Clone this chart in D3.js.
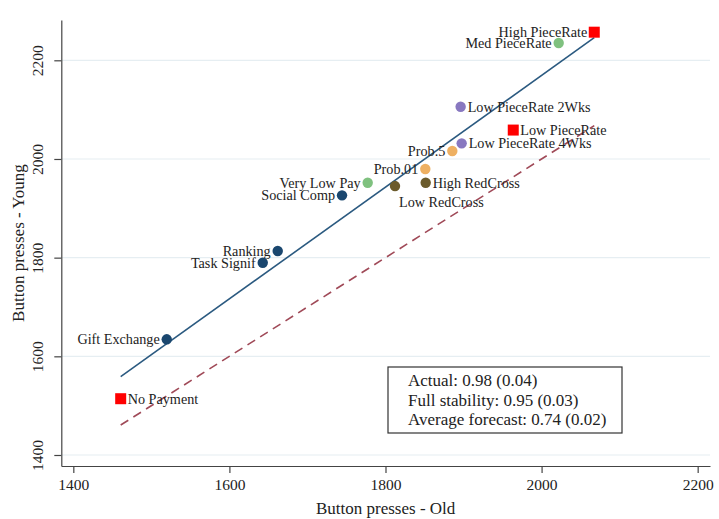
<!DOCTYPE html>
<html><head><meta charset="utf-8">
<script src="https://cdn.jsdelivr.net/npm/d3@7"></script>
<style>
body{margin:0;background:#fff}
svg text{font-family:"Liberation Serif","Times New Roman",serif;fill:#222}
</style>
</head><body>
<svg id="chart" width="719" height="519"></svg>
<script>
// ---------------- data ----------------
const treatments = ["High PieceRate","Med PieceRate","Low PieceRate 2Wks","Low PieceRate","Low PieceRate 4Wks",
  "Prob.5","Prob.01","High RedCross","Low RedCross","Very Low Pay","Social Comp","Ranking","Task Signif",
  "Gift Exchange","No Payment"];
const oldPresses =   [2067.5,2021.9,1896.3,1963.7,1897.6,1885.6,1851.0,1851.5,1812.2,1777.2,1744.3,1661.9,1642.7,1519.7,1460.7];
const youngPresses = [2257.0,2235.0,2105.9,2058.6,2031.7,2016.1,1979.6,1951.8,1945.1,1951.8,1926.3,1813.4,1789.7,1634.5,1514.1];
const groups = ["piece","green","purple","piece","purple","orange","orange","olive","olive","green","navy","navy","navy","navy","piece"];
const xTicks = [1400,1600,1800,2000,2200];
const yTicks = [1400,1600,1800,2000,2200];
const fitOld = [1460.7,2067.5];
const fitYoung = [1558.7,2245.9];
const diagOld = [1460.7,2067.5];
const statsLines = ["Actual: 0.98 (0.04)","Full stability: 0.95 (0.03)","Average forecast: 0.74 (0.02)"];
const xTitle = "Button presses - Old";
const yTitle = "Button presses - Young";

// ---------------- style ----------------
const groupColor = {piece:"#ff0000", green:"#7fc17f", purple:"#8878c0", orange:"#eeb062", olive:"#6b5b2c", navy:"#1a476f"};
// label placement: side ("l","r","br") per treatment
const labelSide = {"High PieceRate":"l","Med PieceRate":"l","Low PieceRate 2Wks":"r","Low PieceRate":"r",
  "Low PieceRate 4Wks":"r","Prob.5":"l","Prob.01":"l","High RedCross":"r","Low RedCross":"br",
  "Very Low Pay":"l","Social Comp":"l","Ranking":"l","Task Signif":"l","Gift Exchange":"l","No Payment":"r"};

const svg = d3.select("#chart");
const x = d3.scaleLinear().domain([1384.6,2215.8]).range([61.3,710]);
const y = d3.scaleLinear().domain([1377.7,2281.7]).range([466,20]);

// gridlines
svg.append("g").selectAll("line").data(yTicks).join("line")
  .attr("x1",x.range()[0]).attr("x2",x.range()[1])
  .attr("y1",d=>y(d)).attr("y2",d=>y(d))
  .attr("stroke","#e6eef2").attr("stroke-width",1.2);

// axes
const xAxis = svg.append("g").attr("transform",`translate(0,${y.range()[0]})`)
  .call(d3.axisBottom(x).tickValues(xTicks).tickSize(7).tickSizeOuter(0).tickPadding(6).tickFormat(d3.format("d")));
const yAxis = svg.append("g").attr("transform",`translate(${x.range()[0]},0)`)
  .call(d3.axisLeft(y).tickValues(yTicks).tickSize(7).tickSizeOuter(0).tickFormat(d3.format("d")));
[xAxis,yAxis].forEach(a=>{
  a.selectAll("path,line").attr("stroke","#444").attr("stroke-width",1.2);
  a.selectAll("text").style("font-size","15.5px").attr("fill","#222");
});
yAxis.selectAll(".tick text").attr("transform","rotate(-90)").attr("x",0).attr("y",-18).attr("dy",0)
  .style("text-anchor","middle");

svg.append("text").attr("x",(x.range()[0]+x.range()[1])/2).attr("y",514)
  .attr("text-anchor","middle").style("font-size","17px").text(xTitle);
svg.append("text").attr("transform",`translate(24,${(y.range()[0]+y.range()[1])/2}) rotate(-90)`)
  .attr("text-anchor","middle").style("font-size","17px").text(yTitle);

// lines
svg.append("line").attr("x1",x(diagOld[0])).attr("y1",y(diagOld[0]))
  .attr("x2",x(diagOld[1])).attr("y2",y(diagOld[1]))
  .attr("stroke","#a04a58").attr("stroke-width",1.6).attr("stroke-dasharray","9,6");
svg.append("line").attr("x1",x(fitOld[0])).attr("y1",y(fitYoung[0]))
  .attr("x2",x(fitOld[1])).attr("y2",y(fitYoung[1]))
  .attr("stroke","#2b5a80").attr("stroke-width",1.6);

// points
const pts = treatments.map((t,i)=>({t, o:oldPresses[i], yv:youngPresses[i], g:groups[i]}));
const mk = svg.append("g");
pts.forEach(p=>{
  const cx = x(p.o), cy = y(p.yv);
  if(p.g==="piece"){
    mk.append("rect").attr("x",cx-5.5).attr("y",cy-5.5).attr("width",11).attr("height",11).attr("fill",groupColor[p.g]);
  } else {
    mk.append("circle").attr("cx",cx).attr("cy",cy).attr("r",5.2).attr("fill",groupColor[p.g]);
  }
  const side = labelSide[p.t];
  const txt = mk.append("text").style("font-size","14.2px").attr("fill","#222").text(p.t);
  if(side==="l") txt.attr("x",cx-7).attr("y",cy).attr("dy","0.35em").attr("text-anchor","end");
  else if(side==="r") txt.attr("x",cx+7).attr("y",cy).attr("dy","0.35em").attr("text-anchor","start");
  else txt.attr("x",cx+4).attr("y",cy+16).attr("dy","0.35em").attr("text-anchor","start");
});

// stats box
const bx = svg.append("g");
bx.append("rect").attr("x",388).attr("y",367).attr("width",234).attr("height",66)
  .attr("fill","#fff").attr("stroke","#333").attr("stroke-width",1.2);
bx.selectAll("text").data(statsLines).join("text")
  .attr("x",408).attr("y",(d,i)=>386+i*19.5).style("font-size","17px").attr("fill","#222").text(d=>d);
</script>
</body></html>
